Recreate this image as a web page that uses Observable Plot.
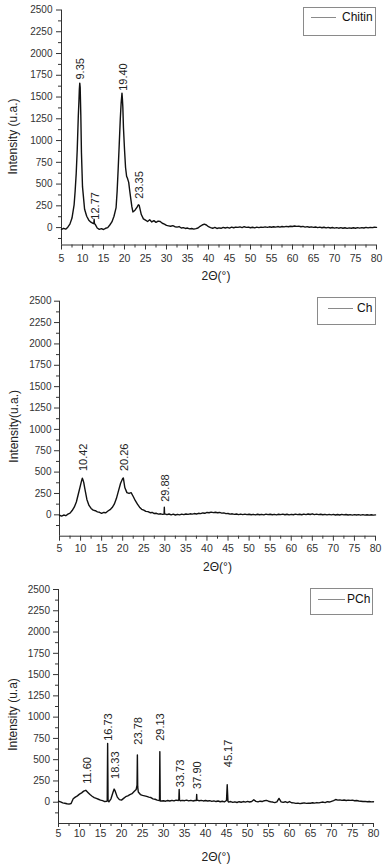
<!DOCTYPE html>
<html><head><meta charset="utf-8">
<script src="https://cdn.jsdelivr.net/npm/d3@7"></script>
<script src="https://cdn.jsdelivr.net/npm/@observablehq/plot@0.6"></script>
<style>
body{margin:0;background:#fff;font-family:'Liberation Sans',Arial,sans-serif;}
.panel{position:relative;width:387px;overflow:hidden;}
.legend{position:absolute;border:1px solid #8a8a8a;box-sizing:border-box;background:#fff;}
.legend .ln{position:absolute;height:0;border-top:1px solid #8a8a8a;}
.legend .tx{position:absolute;font-size:12px;color:#111;line-height:12px;white-space:nowrap;}
</style></head><body><div id="root"></div>
<script>
// 2θ grid of the scans: 5° to 80° in 0.5° steps (rows of 10 = 5°)
const thetaStart = 5, thetaStep = 0.5;

// ---------- Chitin ----------
const chitinIntensity = [
  -20, -8, -18, 5, 40, 110, 260, 620, 1280, 1500,      // 5–9.5
  470, 210, 130, 85, 62, 48, 40, -5, -20, -12,         // 10–14.5
  -22, -8, 0, 30, 65, 130, 230, 680, 1250, 1480,       // 15–19.5
  900, 590, 520, 330, 180, 200, 235, 255, 150, 100,    // 20–24.5
  85, 70, 90, 65, 80, 60, 75, 70, 50, 40,              // 25–29.5
  25, 20, 15, 22, 10, 5, 12, -5, 0, -10,               // 30–34.5
  -5, -15, -10, -18, -12, -5, 15, 30, 40, 30,          // 35–39.5
  10, 0, -8, 2, -10, -3, -8, 2, -5, 3,                 // 40–44.5
  -6, 5, -2, 6, 2, 8, 0, 10, 3, 6,                     // 45–49.5
  -2, 4, -3, 5, 0, 6, 2, 8, 3, 9,                      // 50–54.5
  4, 10, 5, 12, 6, 13, 8, 14, 10, 16,                  // 55–59.5
  12, 18, 14, 17, 10, 14, 6, 11, 4, 8,                 // 60–64.5
  2, 7, 0, 5, -2, 4, -4, 2, -5, 1,                     // 65–69.5
  -6, 0, -7, -1, -8, -2, -9, -3, -8, -2,               // 70–74.5
  -7, -1, -6, 0, -5, 2, -3, 3, -1, 4,                  // 75–79.5
  2                                                    // 80
];
const chitinPeakTheta =     [8.25, 8.75, 9.15, 9.25, 9.35, 9.45, 9.6, 9.75, 12.7, 12.77, 12.85, 18.25, 18.75, 19.2, 19.4, 19.6, 19.75, 20.25, 20.75, 21.25, 21.75, 23.3];
const chitinPeakIntensity = [420, 900, 1450, 1590, 1660, 1610, 1290, 860, 45, 95, 42, 420, 960, 1430, 1545, 1390, 1150, 690, 560, 420, 240, 262];
const chitinLabels = ["9.35", "12.77", "19.40", "23.35"];
const chitinLabelY = [1690, 80, 1560, 320];

// ---------- Ch ----------
const chIntensity = [
  -5, -15, -2, -10, 8, 20, 50, 90, 150, 250,           // 5–9.5
  350, 420, 310, 180, 110, 75, 55, 48, 35, 30,         // 10–14.5
  18, 28, 25, 45, 60, 85, 125, 190, 280, 370,          // 15–19.5
  425, 320, 260, 250, 260, 215, 165, 125, 90, 65,      // 20–24.5
  55, 40, 38, 25, 28, 15, 18, 8, 12, 5,                // 25–29.5
  12, 2, 10, 0, 8, -2, 6, 0, 8, 2,                     // 30–34.5
  10, 5, 12, 8, 15, 10, 18, 14, 22, 18,                // 35–39.5
  28, 24, 32, 26, 30, 24, 28, 20, 22, 14,              // 40–44.5
  16, 8, 12, 5, 10, 3, 9, 2, 8, 2,                     // 45–49.5
  7, 1, 6, 0, 7, 1, 6, 0, 8, 2,                        // 50–54.5
  7, 1, 6, 0, 7, 2, 8, 1, 7, 0,                        // 55–59.5
  6, 1, 8, 2, 7, 1, 9, 3, 10, 4,                       // 60–64.5
  12, 3, 8, 2, 7, 1, 6, 0, 5, -1,                      // 65–69.5
  5, -2, 4, -2, 5, -1, 4, -2, 3, -3,                   // 70–74.5
  3, -2, 2, -4, 2, -3, 1, -4, 1, -3,                   // 75–79.5
  0                                                    // 80
];
const chPeakTheta =     [10.25, 10.42, 10.75, 20.15, 29.82, 29.88, 29.94];
const chPeakIntensity = [400, 428, 380, 432, 8, 88, 8];
const chLabels = ["10.42", "20.26", "29.88"];
const chLabelY = [500, 500, 140];

// ---------- PCh ----------
const pchIntensity = [
  12, 5, -8, -12, -18, -22, -15, 40, 60, 75,           // 5–9.5
  95, 110, 130, 140, 115, 90, 70, 55, 45, 35,          // 10–14.5
  25, 18, 8, 10, 5, 40, 120, 130, 60, 30,              // 15–19.5
  25, 45, 65, 75, 90, 100, 125, 150, 120, 90,          // 20–24.5
  80, 75, 68, 60, 55, 40, 35, 25, 20, 15,              // 25–29.5
  18, 12, 20, 14, 22, 15, 25, 20, 18, 22,              // 30–34.5
  18, 25, 16, 22, 15, 20, 24, 18, 22, 15,              // 35–39.5
  20, 14, 18, 10, 16, 8, 14, 6, 12, 5,                 // 40–44.5
  20, 2, 8, -2, 5, -3, 6, 0, 8, 2,                     // 45–49.5
  10, 3, 8, 30, 10, 4, 12, 8, 18, 22,                  // 50–54.5
  12, 6, 2, -5, 4, 45, 5, -2, 6, -4,                   // 55–59.5
  8, -6, -8, -14, -10, -16, -12, -8, -14, -10,         // 60–64.5
  -12, -6, -10, -4, -8, -2, 2, -4, 6, 2,               // 65–69.5
  10, 18, 32, 25, 28, 22, 26, 20, 25, 22,              // 70–74.5
  24, 18, 20, 14, 12, 8, 10, 5, 8, 4,                  // 75–79.5
  6                                                    // 80
];
const pchPeakTheta =     [16.6, 16.7, 16.8, 18.25, 23.7, 23.78, 23.86, 29.05, 29.13, 29.22, 33.65, 33.73, 33.82, 37.83, 37.9, 37.97, 45.17, 45.35];
const pchPeakIntensity = [20, 690, 20, 155, 200, 555, 180, 30, 595, 15, 30, 150, 25, 20, 90, 22, 205, 10];
const pchLabels = ["11.60", "16.73", "18.33", "23.78", "29.13", "33.73", "37.90", "45.17"];
const pchLabelY = [205, 710, 262, 665, 710, 165, 145, 400];

// ---------- axes ----------
const xMajor = d3.range(5, 81, 5);
const xMinor = d3.range(7.5, 80, 5);
const yMajor = d3.range(0, 2501, 250);
const yMinor = d3.range(-125, 2500, 250);

function buildSeries(grid, peakTheta, peakIntensity) {
  const pts = grid.map((y, i) => ({x: thetaStart + i * thetaStep, y}));
  peakTheta.forEach((x, i) => pts.push({x, y: peakIntensity[i]}));
  return pts.sort((a, b) => a.x - b.x);
}

function panel(cfg) {
  const pts = buildSeries(cfg.grid, cfg.peakTheta, cfg.peakIntensity);
  const labels = cfg.labels.map((t, i) => ({x: +t, y: cfg.labelY[i], t}));
  const ink = "#333";
  const plain = d => String(d);
  return Plot.plot({
    width: 387, height: cfg.height,
    marginTop: cfg.mt, marginBottom: cfg.mb, marginLeft: cfg.ml, marginRight: cfg.mr,
    style: {fontFamily: "'Liberation Sans', Arial, sans-serif", background: "white", color: ink},
    x: {domain: [5, 80], label: null},
    y: {domain: [cfg.yMin, 2500], label: null},
    marks: [
      Plot.axisX({ticks: xMajor, tickFormat: plain, tickSize: cfg.xts, tickPadding: cfg.xtp, fontSize: 10.5, label: null, stroke: ink, fill: ink}),
      Plot.axisX({ticks: xMinor, tickSize: 3, fill: "none", label: null, stroke: ink}),
      Plot.axisY({ticks: yMajor, tickFormat: plain, tickSize: 5, tickPadding: cfg.ytp, fontSize: 10, label: null, stroke: ink, fill: ink}),
      Plot.axisY({ticks: yMinor, tickSize: 3, fill: "none", label: null, stroke: ink}),
      Plot.ruleX([5], {stroke: ink}),
      Plot.ruleY([cfg.yMin], {stroke: ink}),
      Plot.line(pts, {x: "x", y: "y", stroke: "#111", strokeWidth: 1.4}),
      Plot.text(labels, {x: "x", y: "y", text: "t", rotate: -90, textAnchor: "start", lineAnchor: "middle", dx: 1, dy: -1, fontSize: 11, fill: "#222"}),
      Plot.text([cfg.yLabel], {frameAnchor: "left", text: d => d, rotate: -90, textAnchor: "middle", lineAnchor: "middle", dx: cfg.yldx, dy: cfg.yldy, fontSize: 12, fill: "#222"}),
      Plot.text(["2Θ(°)"], {frameAnchor: "bottom", text: d => d, lineAnchor: "middle", dx: cfg.xldx, dy: cfg.xldy, fontSize: 12, fill: "#222"})
    ]
  });
}

const panels = [
  {height: 290, mt: 9.5, mb: 45.5, ml: 61, mr: 11, yMin: -200, xts: 5, xtp: 4.5, ytp: 4,
   grid: chitinIntensity, peakTheta: chitinPeakTheta, peakIntensity: chitinPeakIntensity,
   labels: chitinLabels, labelY: chitinLabelY, yLabel: "Intensity (u.a.)", yldx: -48, yldy: 9, xldx: -3, xldy: 31.5,
   legend: {name: "Chitin", left: 303, top: 7, w: 73, h: 29, lnLeft: 7, lnW: 25, lnTop: 9, txLeft: 38, txTop: 3}},
  {height: 284, mt: 10.7, mb: 38.3, ml: 59, mr: 12, yMin: -250, xts: 5, xtp: 3.5, ytp: 3,
   grid: chIntensity, peakTheta: chPeakTheta, peakIntensity: chPeakIntensity,
   labels: chLabels, labelY: chLabelY, yLabel: "Intensity(u.a.)", yldx: -45, yldy: 7.6, xldx: 0, xldy: 31,
   legend: {name: "Ch", left: 317, top: 7, w: 59, h: 28, lnLeft: 10, lnW: 25, lnTop: 10, txLeft: 39, txTop: 4}},
  {height: 290, mt: 15, mb: 41, ml: 58, mr: 14, yMin: -250, xts: 4, xtp: 2.5, ytp: 3.5,
   grid: pchIntensity, peakTheta: pchPeakTheta, peakIntensity: pchPeakIntensity,
   labels: pchLabels, labelY: pchLabelY, yLabel: "Intensity (u.a)", yldx: -45, yldy: 8, xldx: 0, xldy: 33.5,
   legend: {name: "PCh", left: 310, top: 14, w: 63, h: 27, lnLeft: 7, lnW: 27, lnTop: 10, txLeft: 36, txTop: 4}}
];

const root = document.getElementById("root");
for (const cfg of panels) {
  const div = document.createElement("div");
  div.className = "panel";
  div.style.height = cfg.height + "px";
  div.appendChild(panel(cfg));
  const L = cfg.legend;
  const lg = document.createElement("div");
  lg.className = "legend";
  Object.assign(lg.style, {left: L.left + "px", top: L.top + "px", width: L.w + "px", height: L.h + "px"});
  const ln = document.createElement("div");
  ln.className = "ln";
  Object.assign(ln.style, {left: L.lnLeft + "px", top: L.lnTop + "px", width: L.lnW + "px"});
  const tx = document.createElement("div");
  tx.className = "tx";
  Object.assign(tx.style, {left: L.txLeft + "px", top: L.txTop + "px"});
  tx.textContent = L.name;
  lg.appendChild(ln); lg.appendChild(tx);
  div.appendChild(lg);
  root.appendChild(div);
}
</script></body></html>
